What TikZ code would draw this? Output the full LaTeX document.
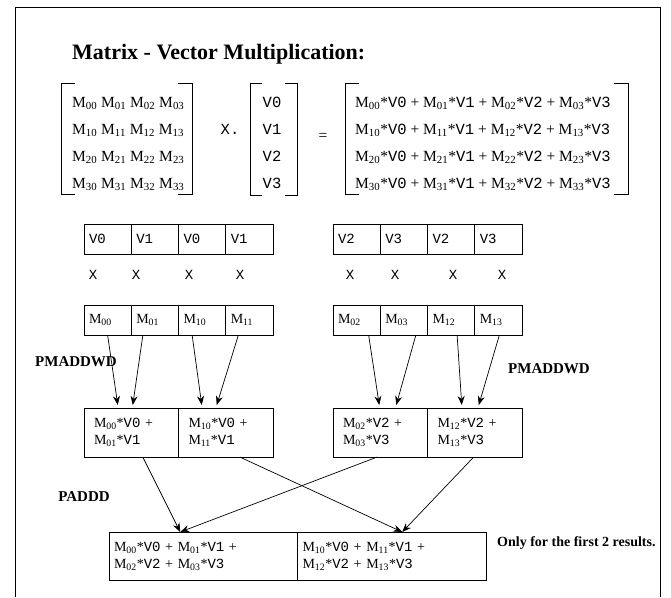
\documentclass[tikz,border=0pt]{standalone}
\usepackage{fontspec}
\setmainfont{Liberation Serif}
\newfontfamily\vfont{Liberation Mono}
\usetikzlibrary{positioning,arrows.meta}

\newcommand{\Mx}[1]{M\textsubscript{#1}}
\newcommand{\Vx}[1]{{\vfont V#1}}

\begin{document}
\begin{tikzpicture}[x=1pt,y=-1pt,>={Stealth[length=9pt,width=7pt]},
  font=\fontsize{15.5}{18}\selectfont,
  lbl/.style={inner sep=0pt},
  op/.style={inner sep=0pt,font=\bfseries\fontsize{15}{18}\selectfont},
  link/.style={->,line width=0.7pt},
  cell/.style={draw,line width=0.8pt,outer sep=0pt,minimum width=47.25pt,minimum height=30pt,
    inner xsep=5pt,inner ysep=0pt,text width=37.25pt,align=left,font=\fontsize{14}{17}\selectfont},
  sum/.style={draw,line width=0.8pt,outer sep=0pt,minimum width=94.5pt,minimum height=49pt,
    inner xsep=10pt,inner ysep=0pt,text width=74.5pt,align=left,font=\fontsize{14}{17}\selectfont},
  total/.style={draw,line width=0.8pt,outer sep=0pt,minimum width=188.5pt,minimum height=48pt,
    inner xsep=5pt,inner ysep=0pt,text width=178.5pt,align=left,font=\fontsize{14}{17}\selectfont}]
\useasboundingbox (0,0) rectangle (671,597);

% frame
\draw[line width=0.8pt] (15,597) -- (15,7) -- (660,7) -- (660,597);

\node[lbl,anchor=base west,font=\bfseries\fontsize{22}{26}\selectfont] (title) at (72,59)
  {Matrix - Vector Multiplication:};

% M x V = result
\foreach \r in {0,1,2,3} {
  \node[lbl,anchor=base west] (mrow\r) at (72,{107+27*\r})
    {\Mx{\r0} \Mx{\r1} \Mx{\r2} \Mx{\r3}};
  \node[lbl,anchor=base] (vec\r) at (272,{107+27*\r}) {\Vx{\r}};
  \node[lbl,anchor=base west] (res\r) at (355,{107+27*\r})
    {\Mx{\r0}*\Vx{0} + \Mx{\r1}*\Vx{1} + \Mx{\r2}*\Vx{2} + \Mx{\r3}*\Vx{3}};
}
\node[lbl,anchor=base] (times) at (230,134) {\vfont X.};
\node[lbl] (equals) at (323,137) {=};

\draw[line width=0.8pt] (75,83) -| (61,194) -- (75,194);
\draw[line width=0.8pt] (178,83) -| (192,194) -- (178,194);
\draw[line width=0.8pt] (262,83) -| (250,195) -- (262,195);
\draw[line width=0.8pt] (285,83) -| (297,195) -- (285,195);
\draw[line width=0.8pt] (359,83) -| (345,194) -- (359,194);
\draw[line width=0.8pt] (614,83) -| (628,194) -- (614,194);

% vector registers
\node[cell,anchor=north west] (va0) at (84,224) {\Vx0};
\node[cell,right=0pt of va0] (va1) {\Vx1};
\node[cell,right=0pt of va1] (va2) {\Vx0};
\node[cell,right=0pt of va2] (va3) {\Vx1};
\node[cell,anchor=north west] (vb0) at (333,224) {\Vx2};
\node[cell,right=0pt of vb0] (vb1) {\Vx3};
\node[cell,right=0pt of vb1] (vb2) {\Vx2};
\node[cell,right=0pt of vb2] (vb3) {\Vx3};

\foreach \x in {93,136,189,240,350,395,453,502}
  \node[lbl,font=\vfont\fontsize{14}{17}\selectfont] at (\x,275) {X};

% matrix registers
\node[cell,anchor=north west] (m00) at (84,305) {\Mx{00}};
\node[cell,right=0pt of m00] (m01) {\Mx{01}};
\node[cell,right=0pt of m01] (m10) {\Mx{10}};
\node[cell,right=0pt of m10] (m11) {\Mx{11}};
\node[cell,anchor=north west] (m02) at (333,305) {\Mx{02}};
\node[cell,right=0pt of m02] (m03) {\Mx{03}};
\node[cell,right=0pt of m03] (m12) {\Mx{12}};
\node[cell,right=0pt of m12] (m13) {\Mx{13}};

% PMADDWD results
\node[sum,anchor=north west] (s0) at (84,408) {\Mx{00}*\Vx0 +\\\Mx{01}*\Vx1};
\node[sum,right=0pt of s0] (s1) {\Mx{10}*\Vx0 +\\\Mx{11}*\Vx1};
\node[sum,anchor=north west] (s2) at (333,408) {\Mx{02}*\Vx2 +\\\Mx{03}*\Vx3};
\node[sum,right=0pt of s2] (s3) {\Mx{12}*\Vx2 +\\\Mx{13}*\Vx3};

\node[op] (pmaddl) at (76,362) {PMADDWD};
\node[op] (pmaddr) at (549,369) {PMADDWD};

\draw[link] (m00.south) -- ([xshift=-13.5pt,yshift=3pt]s0.north);
\draw[link] ([xshift=-12pt]m01.south) -- ([xshift=1.5pt,yshift=3pt]s0.north);
\draw[link] ([xshift=-10pt]m10.south) -- ([xshift=-24pt,yshift=3pt]s1.north);
\draw[link] ([xshift=-11pt]m11.south) -- ([xshift=-9pt,yshift=3pt]s1.north);
\draw[link] ([xshift=12pt]m02.south) -- ([xshift=-1pt,yshift=3pt]s2.north);
\draw[link] ([xshift=12pt]m03.south) -- ([xshift=16pt,yshift=3pt]s2.north);
\draw[link] ([xshift=6pt]m12.south) -- ([xshift=-13pt,yshift=3pt]s3.north);
\draw[link] ([xshift=1pt]m13.south) -- ([xshift=4pt,yshift=3pt]s3.north);

% PADDD results
\node[total,anchor=north west] (r0) at (109,532)
  {\Mx{00}*\Vx0 + \Mx{01}*\Vx1 +\\\Mx{02}*\Vx2 + \Mx{03}*\Vx3};
\node[total,right=0pt of r0] (r1)
  {\Mx{10}*\Vx0 + \Mx{11}*\Vx1 +\\\Mx{12}*\Vx2 + \Mx{13}*\Vx3};

\node[op] (paddd) at (84,497) {PADDD};
\node[op,anchor=west,font=\bfseries\fontsize{14}{17}\selectfont] (note) at (497,543)
  {Only for the first 2 results.};

\draw[link] ([xshift=11.5pt]s0.south) -- ([xshift=-23pt]r0.north);
\draw[link] ([xshift=14pt]s1.south) -- ([xshift=10.5pt]r1.north);
\draw[link] ([xshift=-3pt]s2.south) -- ([xshift=-23pt]r0.north);
\draw[link] ([xshift=-1pt]s3.south) -- ([xshift=10.5pt]r1.north);
\end{tikzpicture}
\end{document}
